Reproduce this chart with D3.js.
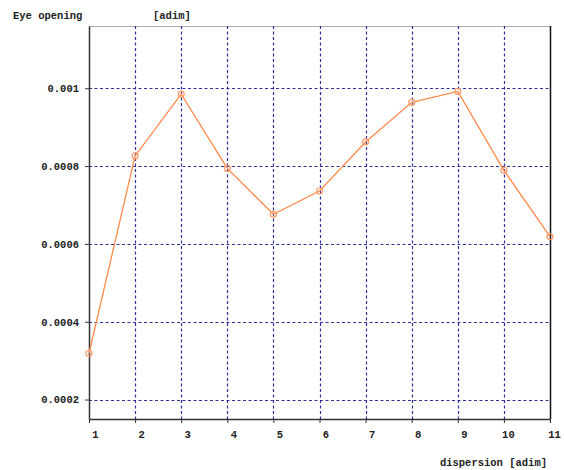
<!DOCTYPE html>
<html>
<head>
<meta charset="utf-8">
<script src="https://cdn.jsdelivr.net/npm/d3@7"></script>
<style>
  body { margin: 0; background: #fff; }
  text { font-family: "Liberation Mono", "DejaVu Sans Mono", monospace; font-weight: bold; font-size: 10.5px; fill: #222; }
</style>
</head>
<body>
<script>
// data
var dispersion = [1, 2, 3, 4, 5, 6, 7, 8, 9, 10, 11];
var eyeOpening = [0.000319, 0.000826, 0.000985, 0.000794, 0.000676, 0.000736, 0.000862, 0.000964, 0.000992, 0.000789, 0.000619];
var yTicks = [0.0002, 0.0004, 0.0006, 0.0008, 0.001];
var yTickLabels = ["0.0002", "0.0004", "0.0006", "0.0008", "0.001"];

var width = 564, height = 470;
var margin = {top: 26, right: 14, bottom: 51, left: 89};

var svg = d3.select("body").append("svg")
    .attr("width", width)
    .attr("height", height);

var x = d3.scaleLinear()
    .domain([1, 11])
    .range([margin.left, width - margin.right]);

var y = d3.scaleLinear()
    .domain([0.00015, 0.00116])
    .range([height - margin.bottom, margin.top]);

// frame: light top, dark right
svg.append("line")
    .attr("x1", x(1)).attr("x2", x(11))
    .attr("y1", y.range()[1] + 0.5).attr("y2", y.range()[1] + 0.5)
    .attr("stroke", "#aaa");
svg.append("line")
    .attr("x1", x(11) + 0.5).attr("x2", x(11) + 0.5)
    .attr("y1", y.range()[1]).attr("y2", y.range()[0])
    .attr("stroke", "#111").attr("stroke-width", 1.5);

// grid
var grid = svg.append("g")
    .attr("stroke", "#30309a")
    .attr("stroke-width", 1.2)
    .attr("stroke-dasharray", "3,2.5");

grid.selectAll(".vgrid")
    .data(dispersion.slice(1, -1))
  .enter().append("line")
    .attr("x1", function(d) { return Math.round(x(d)) + 0.5; })
    .attr("x2", function(d) { return Math.round(x(d)) + 0.5; })
    .attr("y1", y.range()[1])
    .attr("y2", y.range()[0]);

grid.selectAll(".hgrid")
    .data(yTicks)
  .enter().append("line")
    .attr("x1", x(1))
    .attr("x2", x(11))
    .attr("y1", function(d) { return Math.round(y(d)) + 0.5; })
    .attr("y2", function(d) { return Math.round(y(d)) + 0.5; });

// axes
var yAxis = svg.append("g")
    .attr("transform", "translate(" + x(1) + ",0)")
    .call(d3.axisLeft(y)
      .tickValues(yTicks)
      .tickSize(4)
      .tickSizeOuter(0)
      .tickPadding(6)
      .tickFormat(function(d, i) { return yTickLabels[i]; }));

var xAxis = svg.append("g")
    .attr("transform", "translate(0," + y.range()[0] + ")")
    .call(d3.axisBottom(x)
      .tickValues(dispersion)
      .tickSize(4)
      .tickSizeOuter(0)
      .tickPadding(8)
      .tickFormat(d3.format("d")));

svg.selectAll(".domain").attr("stroke", "#333").attr("stroke-width", 1.5);
svg.selectAll(".tick line").attr("stroke", "#333");
yAxis.selectAll("text").attr("font-size", null).attr("font-family", null).style("fill", "#222");
xAxis.selectAll("text")
    .attr("font-size", null).attr("font-family", null)
    .attr("text-anchor", "middle")
    .attr("dx", function(d) { return d < 10 ? 6 : 4; })
    .style("fill", "#222");

// line + markers
var line = d3.line()
    .x(function(d, i) { return x(dispersion[i]); })
    .y(function(d) { return y(d); });

svg.append("path")
    .datum(eyeOpening)
    .attr("d", line)
    .attr("fill", "none")
    .attr("stroke", "#ff8a4c")
    .attr("stroke-width", 1.3);

svg.selectAll(".pt")
    .data(eyeOpening)
  .enter().append("circle")
    .attr("cx", function(d, i) { return x(dispersion[i]); })
    .attr("cy", function(d) { return y(d); })
    .attr("r", 3)
    .attr("fill", "none")
    .attr("stroke", "#ff9a68")
    .attr("stroke-width", 1.2);

// titles
svg.append("text").attr("x", 13).attr("y", 19).text("Eye opening");
svg.append("text").attr("x", 153).attr("y", 19).text("[adim]");
svg.append("text").attr("x", 547).attr("y", 466).attr("text-anchor", "end").text("dispersion [adim]");
</script>
</body>
</html>
